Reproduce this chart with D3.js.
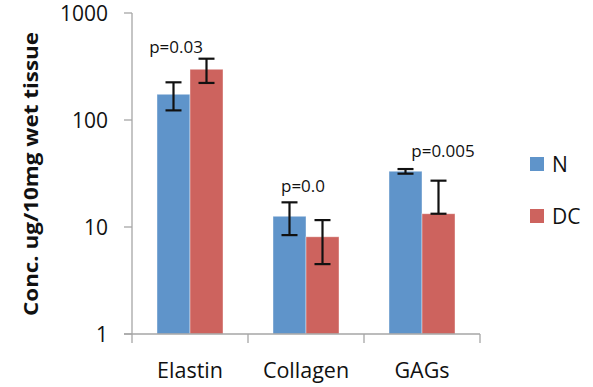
<!DOCTYPE html>
<html lang="en">
<head>
  <meta charset="UTF-8" />
  <title>Tissue concentrations</title>
  <style>
    body {
      margin: 0;
      background: white;
      font-family: "Open Sans", "Lato", sans-serif;
    }
    svg { display: block; }
    .axis-line { stroke: #a6a6a6; stroke-width: 1.3px; }
    .tick-label { font-size: 21px; fill: #111; }
    .cat-label { font-size: 21.5px; fill: #111; }
    .p-label { font-size: 17px; fill: #111; }
    .legend-label { font-size: 21px; fill: #111; }
    .y-title { font-size: 19px; font-weight: bold; fill: #111; }
  </style>
</head>
<body>
  <svg width="593" height="387"></svg>

  <script src="https://d3js.org/d3.v7.min.js"></script>
  <script>
    const categories = ["Elastin", "Collagen", "GAGs"];
    const seriesNames = ["N", "DC"];
    const colors = ["#5f94ca", "#cd635e"];

    // mean, upper and lower error bar ends, per series
    const nValues  = [174, 12.6, 33.2];
    const nUpper   = [225, 17.0, 34.8];
    const nLower   = [123, 8.4, 31.5];
    const dcValues = [298, 8.1, 13.3];
    const dcUpper  = [374, 11.6, 27.1];
    const dcLower  = [222, 4.5, 13.3];

    const pLabels = ["p=0.03", "p=0.0", "p=0.005"];
    const yTicks = [1, 10, 100, 1000];

    const svg = d3.select("svg");

    const x = d3.scaleBand()
      .domain(categories)
      .range([132, 480])
      .paddingInner(0)
      .paddingOuter(0);

    const inner = d3.scaleBand()
      .domain(seriesNames)
      .range([25, x.bandwidth() - 25]);

    const y = d3.scaleLog()
      .domain([1, 1000])
      .range([334, 13]);

    const rows = [];
    categories.forEach((c, i) => {
      rows.push({ cat: c, s: "N", v: nValues[i], hi: nUpper[i], lo: nLower[i], color: colors[0] });
      rows.push({ cat: c, s: "DC", v: dcValues[i], hi: dcUpper[i], lo: dcLower[i], color: colors[1] });
    });

    // bars
    svg.append("g")
      .selectAll("rect")
      .data(rows)
      .join("rect")
        .attr("x", d => x(d.cat) + inner(d.s))
        .attr("y", d => y(d.v))
        .attr("width", inner.bandwidth())
        .attr("height", d => y(1) - y(d.v))
        .attr("fill", d => d.color)
        .attr("stroke", "#fff")
        .attr("stroke-opacity", 0.5)
        .attr("stroke-width", 0.8);

    // error bars
    const err = svg.append("g")
      .attr("stroke", "#111")
      .attr("stroke-width", 2.2)
      .selectAll("g")
      .data(rows)
      .join("g")
        .attr("transform", d => `translate(${x(d.cat) + inner(d.s) + inner.bandwidth() / 2},0)`);
    err.append("line")
      .attr("y1", d => y(d.hi)).attr("y2", d => y(d.lo));
    err.append("line")
      .attr("x1", -8).attr("x2", 8)
      .attr("y1", d => y(d.hi)).attr("y2", d => y(d.hi));
    err.append("line")
      .attr("x1", -8).attr("x2", 8)
      .attr("y1", d => y(d.lo)).attr("y2", d => y(d.lo));

    // y axis
    const yAxis = svg.append("g");
    yAxis.append("line").attr("class", "axis-line")
      .attr("x1", 132).attr("x2", 132).attr("y1", y(1000)).attr("y2", y(1));
    yAxis.selectAll(".tk")
      .data(yTicks)
      .join("line")
        .attr("class", "axis-line")
        .attr("x1", 124).attr("x2", 132)
        .attr("y1", d => y(d)).attr("y2", d => y(d));
    yAxis.selectAll("text")
      .data(yTicks)
      .join("text")
        .attr("class", "tick-label")
        .attr("x", 108)
        .attr("y", d => y(d))
        .attr("dy", "0.36em")
        .attr("text-anchor", "end")
        .text(d => d);

    // x axis
    const xAxis = svg.append("g");
    xAxis.append("line").attr("class", "axis-line")
      .attr("x1", 124).attr("x2", 480).attr("y1", y(1)).attr("y2", y(1));
    xAxis.selectAll(".tk")
      .data([...categories.map(c => x(c)), 480])
      .join("line")
        .attr("class", "axis-line")
        .attr("x1", d => d).attr("x2", d => d)
        .attr("y1", y(1)).attr("y2", y(1) + 9);
    xAxis.selectAll("text")
      .data(categories)
      .join("text")
        .attr("class", "cat-label")
        .attr("x", d => x(d) + x.bandwidth() / 2)
        .attr("y", 378)
        .attr("text-anchor", "middle")
        .text(d => d);

    // p values above the groups
    const pShift = [-14, -3, 21];
    const pY = [53, 192, 157];
    svg.append("g")
      .selectAll("text")
      .data(pLabels)
      .join("text")
        .attr("class", "p-label")
        .attr("x", (d, i) => x(categories[i]) + x.bandwidth() / 2 + pShift[i])
        .attr("y", (d, i) => pY[i])
        .attr("text-anchor", "middle")
        .text(d => d);

    // y title
    svg.append("text")
      .attr("class", "y-title")
      .attr("transform", "translate(38,174) rotate(-90)")
      .attr("text-anchor", "middle")
      .attr("textLength", 284)
      .attr("lengthAdjust", "spacingAndGlyphs")
      .text("Conc. ug/10mg wet tissue");

    // legend
    const legend = svg.append("g")
      .selectAll("g")
      .data(seriesNames)
      .join("g")
        .attr("transform", (d, i) => `translate(530,${157 + i * 52})`);
    legend.append("rect")
      .attr("width", 14).attr("height", 14)
      .attr("fill", (d, i) => colors[i]);
    legend.append("text")
      .attr("class", "legend-label")
      .attr("x", 22).attr("y", 15)
      .text(d => d);
  </script>
</body>
</html>
